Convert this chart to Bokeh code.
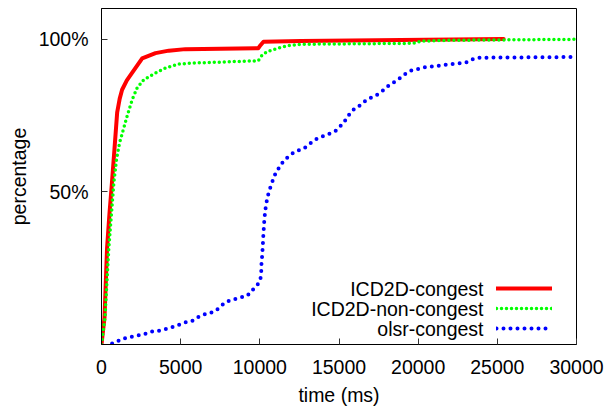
from bokeh.plotting import figure
from bokeh.models import Range1d, FixedTicker, Legend, LegendItem, Label
from bokeh.embed import file_html
from bokeh.resources import INLINE

# ---- data (time in ms, percentage) ----
icd_congest_t = [0, 190, 350, 505, 660, 820, 990, 1150, 1300, 1600, 1940, 2570, 3410,
                 4250, 5300, 9900, 10000, 10230, 12570, 18900, 25400]
icd_congest_y = [0, 8.8, 31.5, 43, 53, 64, 76, 80.5, 83.4, 86.5, 89, 93.7, 95.4,
                 96.2, 96.7, 97, 97.7, 99.1, 99.4, 99.7, 100]

icd_non_t = [0, 220, 460, 780, 950, 1140, 1620, 1940, 2250, 2670, 3410, 4040, 4880, 5620,
             9900, 10150, 10470, 10880, 11510, 11940, 12780, 19700, 20150, 22000, 30000]
icd_non_y = [0, 8.8, 31.5, 53, 60.7, 66, 74.8, 80.2, 84, 86.7, 88.9, 90.5, 91.8, 92.1,
             92.9, 94.8, 95.9, 96.6, 97.5, 98, 98.3, 98.6, 99.3, 99.6, 99.9]

olsr_t = [670, 990, 1300, 1620, 1940, 2360, 2670, 3050, 3410, 3730, 4150, 4470, 4780,
          5100, 5410, 5730, 6040, 6360, 6670, 6990, 7310, 7830, 8150, 8460, 8780, 9200,
          9620, 9935, 10040, 10090, 10100, 10150, 10190, 10210, 10250, 10290, 10360,
          10460, 10570, 10670, 10780, 10880, 11090, 11300, 11510, 11830, 12150, 12460,
          12780, 12990, 13300, 13620, 14040, 14460, 14780, 14990, 15310, 15520, 15940,
          16150, 16460, 16790, 17100, 17410, 17730, 17940, 18250, 18460, 18670, 18990,
          19200, 19520, 19830, 20150, 20360, 20780, 21200, 21620, 22040, 22460, 22880,
          23200, 23520, 23940, 29620]
olsr_y = [0.3, 1, 1.7, 2.3, 2.6, 3, 3.3, 4.1, 4.4, 4.6, 5.2, 5.7, 6.3,
          6.8, 7.5, 7.7, 8.8, 9.5, 10.3, 10.5, 11.5, 13.9, 14.4, 14.9, 15.4, 15.9,
          18.3, 20.1, 21.5, 23.9, 26.1, 29.3, 32.6, 34.7, 38, 41.2, 44.5,
          47.7, 49.9, 51.5, 53.1, 54.8, 56.9, 58.5, 60.2, 61.6, 62.9, 63.6,
          64.2, 65, 66.3, 67.4, 68.3, 69.1, 69.9, 71, 72.6, 74.5, 77,
          77.5, 78.9, 80.2, 81, 81.8, 82.9, 84, 85.1, 85.8, 86.7, 87.6,
          88.6, 89.6, 90.1, 90.3, 90.7, 91, 91.2, 91.5, 91.8, 92, 92.1,
          92.6, 93.6, 93.9, 94.1]

series_names = ["ICD2D-congest", "ICD2D-non-congest", "olsr-congest"]
x_ticks = [0, 5000, 10000, 15000, 20000, 25000, 30000]
y_ticks = [50, 100]
y_tick_labels = ["50%", "100%"]

FONT = "Liberation Sans"
FS = "19.5px"

p = figure(width=609, height=408, output_backend="svg", toolbar_location=None,
           x_range=Range1d(0, 30000), y_range=Range1d(0, 110),
           min_border_left=101, min_border_right=33, min_border_top=8,
           min_border_bottom=61)
p.grid.visible = False
p.outline_line_color = "black"
p.outline_line_width = 1
p.background_fill_color = "white"
p.border_fill_color = "white"

for ax in (p.xaxis[0], p.yaxis[0]):
    ax.major_tick_in = 6
    ax.major_tick_out = 0
    ax.minor_tick_line_color = None
    ax.axis_line_color = "black"
    ax.major_tick_line_color = "#333333"
    ax.major_label_text_font = FONT
    ax.major_label_text_font_size = FS
    ax.major_label_text_color = "black"
    ax.axis_label_text_font = FONT
    ax.axis_label_text_font_size = FS
    ax.axis_label_text_font_style = "normal"
    ax.axis_label_text_color = "black"

p.xaxis.ticker = FixedTicker(ticks=x_ticks)
p.yaxis.ticker = FixedTicker(ticks=y_ticks)
p.yaxis.major_label_overrides = {v: s for v, s in zip(y_ticks, y_tick_labels)}
p.xaxis.major_label_standoff = 15
p.yaxis.major_label_standoff = 13
p.xaxis.axis_label = "time (ms)"
p.yaxis.axis_label = "percentage"
p.xaxis.axis_label_standoff = 7
p.yaxis.axis_label_standoff = 6

r1 = p.line(icd_congest_t, icd_congest_y, line_color="#ff0000", line_width=4,
            line_join="round", line_cap="round")
r2 = p.line(icd_non_t, icd_non_y, line_color="#00ff00", line_width=3.5,
            line_dash="0 5", line_cap="round")
r3 = p.line(olsr_t, olsr_y, line_color="#0000ff", line_width=4,
            line_dash="0 7", line_cap="round")

legend = Legend(items=[LegendItem(label=" ", renderers=[r]) for r in (r1, r2, r3)],
                location=(395, 6), glyph_width=56, glyph_height=20, label_height=20,
                spacing=0, padding=0, margin=0, border_line_color=None,
                background_fill_alpha=0, label_text_font_size="1px", label_width=1)
p.add_layout(legend, "center")

for name, yy in zip(series_names, [56, 36, 16]):
    p.add_layout(Label(x=382, y=yy, x_units="screen", y_units="screen", text=name,
                       text_align="right", text_baseline="middle", text_font=FONT,
                       text_font_size=FS, text_color="black"))

open("out.html", "w").write(file_html(p, INLINE))
